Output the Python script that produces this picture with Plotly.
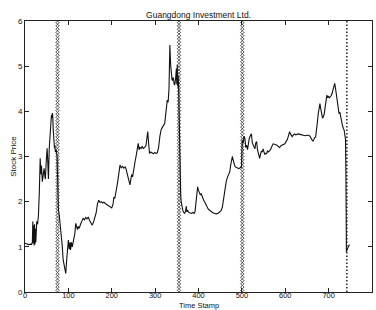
import numpy as np
import plotly.graph_objects as go

chart_title = "Guangdong Investment Ltd."
x_label = "Time Stamp"
y_label = "Stock Price"

t = [0, 4, 8, 12, 15, 17, 18, 19, 20, 21, 22, 23, 24, 25, 26, 27, 29, 31, 33, 35, 36, 37, 38, 40, 42, 44, 46, 47, 49, 51, 52, 53, 54, 56, 58, 60, 61, 62, 63, 64, 65, 66, 68, 69, 70, 72, 73, 74, 75,
     76, 77, 79, 81, 84, 86, 88, 90, 92, 94, 96, 98, 100, 102, 104, 105, 107, 109, 111, 113, 115, 117, 119, 121, 123, 125, 128, 131, 134, 137, 140, 143, 146, 149, 152, 155,
     158, 161, 164, 167, 170, 173, 176, 179, 182, 185, 188, 191, 194, 197, 200, 203, 205, 207, 210, 213, 216, 219, 222, 225, 228, 231, 233, 236, 239, 242, 244, 246, 248, 250, 252, 254, 256, 258, 261, 263, 265, 268, 270, 273, 276, 279, 281, 283, 285, 287, 290, 293, 296, 299, 302, 305, 308, 311, 314, 317, 320, 322, 324, 326, 328, 330, 331, 332, 333, 334, 335, 336, 337, 338, 339, 340, 342, 344, 345, 347, 348, 349, 350, 351, 352, 353, 354,
     355, 356, 357, 358, 359, 360, 362, 364, 366, 368, 370, 372, 373, 375, 378, 381, 384, 387, 390, 392, 394, 396, 398, 400, 402, 404, 406, 409, 412, 415, 418, 421, 424, 427, 430, 434, 438, 442, 446, 449, 452, 455, 458, 461, 464, 467, 470, 472, 474, 476, 478, 480, 482, 484, 487, 490, 493, 496, 499,
     501, 503, 505, 507, 509, 511, 513, 515, 517, 520, 522, 524, 526, 528, 530, 532, 534, 536, 538, 540, 541, 543, 545, 547, 549, 551, 553, 555, 557, 559, 561, 564, 566, 568, 570, 572, 575, 578, 581, 584, 587, 590, 593, 596, 599, 602, 605, 608, 610, 612, 614, 616, 618, 621, 624, 627, 630, 634, 638, 642, 646, 650, 654, 657, 660, 662, 664, 666, 668, 670, 672, 674, 676, 678, 680, 682, 684, 686, 688, 690, 692, 694, 696, 698, 700, 702, 704, 706, 708, 710, 712, 714, 716, 718, 720, 722, 724, 726, 728, 730, 732, 734, 736, 737, 739, 740, 741, 743, 745, 747, 748]

price = [1.08, 1.07, 1.05, 1.06, 1.05, 1.1, 1.56, 1.08, 1.48, 1.03, 1.5, 1.05, 1.4, 1.1, 1.45, 1.56, 1.5, 1.7, 2.2, 2.96, 2.75, 2.6, 2.8, 2.44, 2.7, 2.74, 2.55, 2.5, 2.9, 3.18, 3.0, 2.7, 2.5, 3.2, 3.5, 3.8, 3.92, 3.85, 3.96, 3.9, 3.6, 3.3, 3.18, 3.25, 3.1, 3.15, 3.1, 3.0, 2.6,
         2.1, 1.81, 1.7, 1.5, 1.3, 1.0, 0.71, 0.6, 0.55, 0.41, 0.7, 0.9, 1.15, 0.95, 1.1, 0.93, 1.1, 1.0, 1.15, 1.2, 1.3, 1.52, 1.45, 1.38, 1.45, 1.41, 1.5, 1.58, 1.63, 1.6, 1.65, 1.62, 1.66, 1.58, 1.52, 1.48,
         1.55, 1.65, 1.75, 1.95, 2.03, 1.98, 2.0, 1.97, 1.99, 1.96, 1.94, 1.93, 1.9, 1.88, 1.86, 1.95, 2.1, 2.07, 2.2, 2.4, 2.6, 2.81, 2.75, 2.78, 2.74, 2.77, 2.72, 2.6, 2.45, 2.37, 2.5, 2.6, 2.55, 2.7, 2.8, 2.9, 3.0, 3.1, 3.29, 3.15, 3.2, 3.18, 3.22, 3.18, 3.2, 3.25, 3.4, 3.55, 3.3, 3.07, 3.1, 3.08, 3.06, 3.09, 3.07, 3.08, 3.2, 3.45, 3.6, 3.65, 3.7, 3.73, 3.9, 4.1, 4.25, 4.2, 4.3, 4.5, 5.0, 5.47, 5.2, 5.0, 4.85, 4.95, 4.7, 4.69, 4.75, 4.6, 4.58, 4.7, 4.8, 4.95, 4.6, 5.03, 4.55, 4.8, 4.6,
         4.0, 3.3, 2.8, 2.4, 2.15, 2.0, 1.85, 1.8, 1.76, 1.74, 1.78, 1.9, 1.78, 1.8, 1.76, 1.75, 1.74, 1.76, 1.74, 1.78, 1.95, 2.15, 2.33, 2.25, 2.2, 2.15, 2.18, 2.08, 2.03, 1.98, 1.9, 1.86, 1.82, 1.8, 1.77, 1.75, 1.74, 1.73, 1.75, 1.77, 1.8, 1.88, 2.1, 2.33, 2.45, 2.55, 2.62, 2.66, 2.8, 2.95, 3.0, 2.92, 2.85, 2.78, 2.76, 2.74, 2.73, 2.75, 2.77,
         3.36, 3.3, 3.45, 3.4, 3.2, 3.25, 3.15, 3.3, 3.4, 3.47, 3.5, 3.3, 3.25, 3.2, 3.17, 3.3, 3.33, 3.15, 3.05, 3.0, 2.96, 3.05, 3.12, 3.1, 3.17, 3.1, 3.05, 3.07, 3.06, 3.12, 3.1, 3.13, 3.15, 3.2, 3.25, 3.28, 3.27, 3.26, 3.25, 3.22, 3.2, 3.24, 3.26, 3.27, 3.28, 3.33, 3.38, 3.48, 3.55, 3.5, 3.46, 3.44, 3.47, 3.5, 3.48, 3.49, 3.5, 3.49, 3.48, 3.47, 3.46, 3.47, 3.47, 3.45, 3.38, 3.36, 3.34, 3.4, 3.42, 3.43, 3.55, 3.75, 3.95, 4.1, 4.17, 4.05, 3.95, 3.85, 3.88, 3.95, 4.1, 4.25, 4.36, 4.3, 4.33, 4.3, 4.32, 4.35, 4.4, 4.5, 4.55, 4.62, 4.5, 4.35, 4.2, 4.05, 3.95, 3.98, 3.85, 3.73, 3.68, 3.62, 3.58, 3.5, 3.38, 2.4, 0.89, 0.95, 1.0, 1.03, 1.05]

cross_events = [75, 355, 501]
dotted_events = [742]
x_ticks = [0, 100, 200, 300, 400, 500, 600, 700, 800]
y_ticks = [0, 1, 2, 3, 4, 5, 6]
x_range = [0, 800]
y_range = [0, 6]

fig = go.Figure()

col_y = np.linspace(y_range[0], y_range[1], 84)
for ev in cross_events:
    fig.add_trace(go.Scatter(
        x=[ev] * len(col_y), y=col_y, mode="markers",
        marker=dict(symbol="x-thin", size=3.5, line=dict(width=0.8, color="#333")),
        hoverinfo="skip", showlegend=False))

for ev in dotted_events:
    fig.add_trace(go.Scatter(
        x=[ev, ev], y=y_range, mode="lines",
        line=dict(color="#222", width=1.5, dash="1.5px,2px"),
        hoverinfo="skip", showlegend=False))

fig.add_trace(go.Scatter(
    x=t, y=price, mode="lines",
    line=dict(color="#111", width=1.1),
    showlegend=False))

font_family = "Liberation Sans, Arial, sans-serif"
axis_common = dict(
    showline=True, linecolor="#222", linewidth=1, mirror="ticks",
    ticks="inside", ticklen=4, tickcolor="#222", tickwidth=1,
    showgrid=False, zeroline=False, automargin=False,
)

fig.update_layout(
    width=376, height=310,
    margin=dict(l=25, r=4, t=21, b=18, autoexpand=False),
    paper_bgcolor="white", plot_bgcolor="white",
    title=dict(text=chart_title, x=0.528, xanchor="center", y=0.953, yanchor="middle",
               font=dict(family=font_family, size=8.5, color="#111")),
    xaxis=dict(range=x_range, tickvals=x_ticks, ticktext=[str(v) for v in x_ticks],
               ticklabelstandoff=-4,
               tickfont=dict(family=font_family, size=7.5, color="#111"),
               **axis_common),
    yaxis=dict(range=y_range, tickvals=y_ticks, ticktext=[str(v) for v in y_ticks],
               tickfont=dict(family=font_family, size=8, color="#111"),
               title=dict(text=y_label, standoff=0, font=dict(family=font_family, size=8, color="#111")),
               **axis_common),
    annotations=[dict(text=x_label, xref="paper", yref="paper", x=0.5, y=-0.049,
                      xanchor="center", yanchor="middle", showarrow=False,
                      font=dict(family=font_family, size=7.5, color="#111"))],
)

fig.write_html("out.html", config={"displayModeBar": False},
               post_script="document.body.style.margin='0';")
